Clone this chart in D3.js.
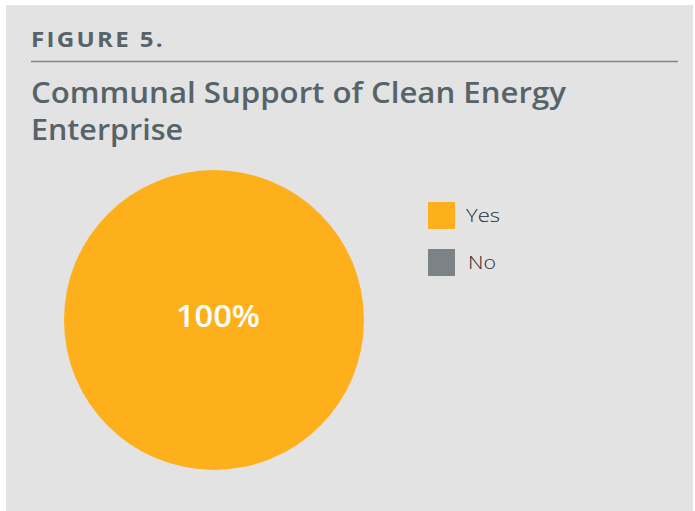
<!DOCTYPE html>
<html><head><meta charset="utf-8">
<script src="https://cdn.jsdelivr.net/npm/d3@7"></script>
<style>html,body{margin:0;padding:0;background:#fff;}</style>
</head><body>
<svg id="c" width="695" height="511"></svg>
<script>
const categories = ["Yes", "No"];
const values = [100, 0];
const colors = ["#fdb01b", "#7c8386"];
const figureLabel = "FIGURE 5.";
const titleLines = ["Communal Support of Clean Energy", "Enterprise"];

const svg = d3.select("#c");
svg.append("rect").attr("x", 6).attr("y", 5).attr("width", 687).attr("height", 506).attr("fill", "#e3e3e3");

svg.append("text").attr("x", 31).attr("y", 47).text(figureLabel)
  .attr("font-family", "Open Sans").attr("font-weight", 700).attr("font-size", 21)
  .attr("letter-spacing", 2)
  .attr("textLength", 134).attr("lengthAdjust", "spacingAndGlyphs").attr("fill", "#56646a");
svg.append("line").attr("x1", 31).attr("x2", 678).attr("y1", 61.5).attr("y2", 61.5)
  .attr("stroke", "#7a878b").attr("stroke-width", 1.5);
const titleLens = [535, 152];
const titleY = [103, 140];
titleLines.forEach((t, i) => {
  svg.append("text").attr("x", 31).attr("y", titleY[i]).text(t)
    .attr("font-family", "Open Sans").attr("font-weight", 600).attr("font-size", 28)
    .attr("textLength", titleLens[i]).attr("lengthAdjust", "spacingAndGlyphs")
    .attr("fill", "#56646a");
});

const cx = 214, cy = 320, r = 150;
const pie = d3.pie().sort(null).value(d => d)(values);
const arc = d3.arc().innerRadius(0).outerRadius(r);
const g = svg.append("g").attr("transform", `translate(${cx},${cy})`);
g.selectAll("path").data(pie).join("path").attr("d", arc).attr("fill", (d, i) => colors[i]);
const total = d3.sum(values);
pie.forEach((d, i) => {
  if (d.value <= 0) return;
  const pos = d.value === total ? [0, 0] : d3.arc().innerRadius(r * 0.6).outerRadius(r * 0.6).centroid(d);
  g.append("text").attr("x", pos[0] + 4).attr("y", pos[1] + 7)
    .attr("text-anchor", "middle").text(Math.round(d.value / total * 100) + "%")
    .attr("font-family", "Open Sans").attr("font-weight", 600).attr("font-size", 31)
    .attr("textLength", 84).attr("lengthAdjust", "spacingAndGlyphs").attr("fill", "#fff");
});

const leg = svg.append("g");
categories.forEach((c, i) => {
  const y = 202 + i * 47;
  leg.append("rect").attr("x", 428).attr("y", y).attr("width", 27).attr("height", 27).attr("fill", colors[i]);
  leg.append("text").attr("x", 466 + (i === 1 ? 2 : 0)).attr("y", y + 13.5).attr("dy", "0.35em").text(c)
    .attr("font-family", "Open Sans").attr("font-weight", 300).attr("font-size", 19)
    .attr("textLength", i === 0 ? 34 : 28).attr("lengthAdjust", "spacingAndGlyphs").attr("fill", "#2a2a2a");
});
</script>
</body></html>
